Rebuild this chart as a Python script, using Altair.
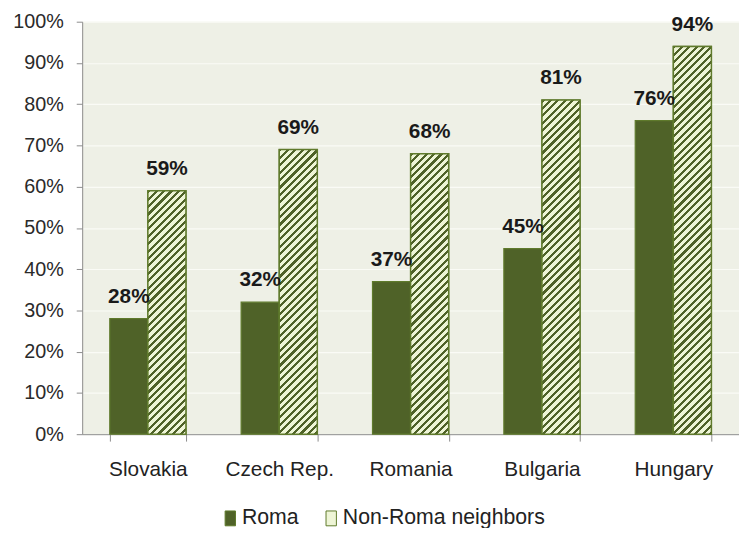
import altair as alt
import pandas as pd

countries = ["Slovakia", "Czech Rep.", "Romania", "Bulgaria", "Hungary"]
roma = [28, 32, 37, 45, 76]
non_roma = [59, 69, 68, 81, 94]
series = ["Roma", "Non-Roma neighbors"]
y_ticks = [0, 10, 20, 30, 40, 50, 60, 70, 80, 90, 100]

rows = []
for c, r, n in zip(countries, roma, non_roma):
    rows.append({"country": c, "series": series[0], "value": r})
    rows.append({"country": c, "series": series[1], "value": n})
df = pd.DataFrame(rows)

W, H = 664, 417
PAD_IN = 0.42
FONT = "Liberation Sans, Arial, sans-serif"
DARK = "#4f6228"
LIGHT = "#eef5d6"
BORDER = "#5f7a2c"
BG = "#eef0e6"
AXIS_GRAY = "#8c8c8c"

step = W / len(countries)
bar_w = step * (1 - PAD_IN) / 2


def hatch(v):
    h = v / 100.0 * H
    w = bar_w
    k = (w + h) / (w * w + h * h)
    period = 7.5
    n = (w + h) / period
    frac = 0.42
    stops = []
    i = 0
    while i < n:
        a = i / n
        b = min((i + frac) / n, 1.0)
        c = min((i + 1) / n, 1.0)
        stops += [
            {"offset": a, "color": DARK},
            {"offset": b, "color": DARK},
            {"offset": b, "color": LIGHT},
            {"offset": c, "color": LIGHT},
        ]
        i += 1
    return {"gradient": "linear", "x1": 0, "y1": 0, "x2": k * w, "y2": k * h,
            "stops": stops}


x_enc = alt.X(
    "country:N",
    sort=countries,
    scale=alt.Scale(domain=countries, paddingInner=PAD_IN, paddingOuter=PAD_IN / 2),
    axis=alt.Axis(
        title=None, labelAngle=0, tickBand="extent", tickSize=7, labelPadding=18,
        labelFont=FONT, labelFontSize=21, labelColor="#222222",
        domainColor=AXIS_GRAY, tickColor=AXIS_GRAY, grid=False,
    ),
)
y_enc = alt.Y(
    "value:Q",
    scale=alt.Scale(domain=[0, 100], nice=False),
    axis=alt.Axis(
        title=None, values=y_ticks, labelExpr="datum.value + '%'",
        tickSize=6, labelPadding=13, labelFont=FONT, labelFontSize=20,
        labelColor="#2a2a2a", domainColor=AXIS_GRAY, tickColor=AXIS_GRAY,
        gridColor="#fafbf6", gridWidth=1.2,
    ),
)
xo_enc = alt.XOffset(
    "series:N", sort=series,
    scale=alt.Scale(domain=series, paddingInner=0, paddingOuter=0),
)

base = alt.Chart(df).mark_bar(stroke=BORDER, strokeWidth=1.2).encode(
    x=x_enc,
    y=y_enc,
    xOffset=xo_enc,
    color=alt.Color(
        "series:N",
        scale=alt.Scale(domain=series, range=[DARK, LIGHT]),
        legend=alt.Legend(
            title=None, orient="none", direction="horizontal",
            legendX=139, legendY=491, padding=0,
            symbolType="M-0.7,-1H0.7V1H-0.7Z", symbolSize=225,
            symbolStrokeColor=BORDER, symbolStrokeWidth=1,
            labelFont=FONT, labelFontSize=21.5, labelColor="#222222",
            labelOffset=1, columnPadding=22, labelLimit=0,
        ),
    ),
)

layers = [base]
for c, n in zip(countries, non_roma):
    layers.append(
        alt.Chart(df)
        .transform_filter((alt.datum.country == c) & (alt.datum.series == series[1]))
        .mark_bar(fill=hatch(n), stroke=BORDER, strokeWidth=1.5)
        .encode(x=x_enc, y=y_enc, xOffset=xo_enc)
    )

labels = (
    alt.Chart(df)
    .transform_calculate(label="datum.value + '%'")
    .mark_text(dy=-16, baseline="alphabetic", align="center", font=FONT,
               fontSize=21, fontWeight="bold", color="#1a1a1a")
    .encode(x=x_enc, y=y_enc, xOffset=xo_enc, text="label:N")
)
layers.append(labels)

chart = (
    alt.layer(*layers)
    .properties(
        width=W, height=H,
        autosize=alt.AutoSizeParams(type="none"),
        padding={"left": 75, "top": 11, "right": 0, "bottom": 92},
        background="white",
    )
    .configure_view(fill=BG, stroke=None)
)

chart.save("out.html", embed_options={"renderer": "svg", "actions": False})
